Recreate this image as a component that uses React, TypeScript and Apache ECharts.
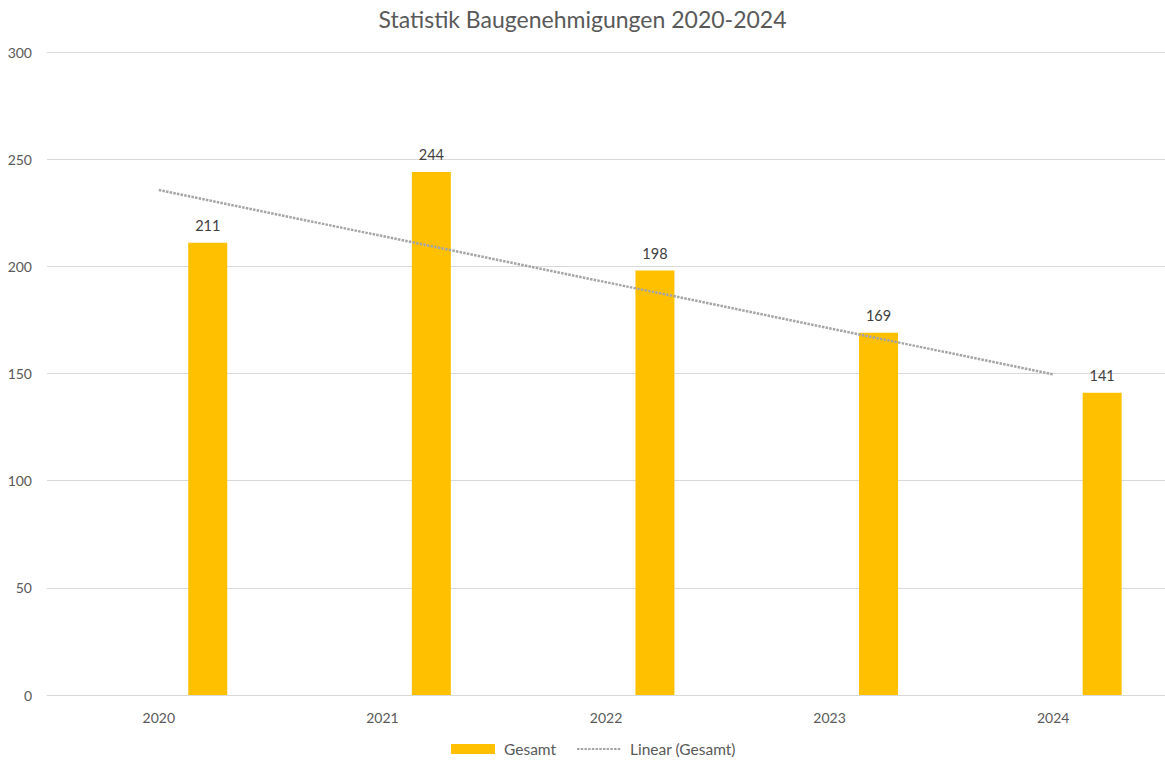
import React, { useEffect, useRef } from "react";
import * as echarts from "echarts";

const title = "Statistik Baugenehmigungen 2020-2024";
const years = ["2020", "2021", "2022", "2023", "2024"];
const gesamt = [211, 244, 198, 169, 141];
const emptySlot: (number | null)[] = [null, null, null, null, null];
const trendGesamt = [235.6, 214.1, 192.6, 171.1, 149.6];
const yTicks = [0, 50, 100, 150, 200, 250, 300];

const FONT = "Lato, 'Open Sans', sans-serif";

export default function App() {
  const ref = useRef<HTMLDivElement>(null);
  useEffect(() => {
    document.body.style.margin = "0";
    const chart = echarts.init(ref.current!, null, { renderer: "svg" });
    chart.setOption({
      animation: false,
      backgroundColor: "#ffffff",
      textStyle: { fontFamily: FONT },
      title: {
        text: title,
        left: "center",
        top: 2,
        textStyle: { fontFamily: FONT, fontSize: 23, fontWeight: "normal", color: "#595959" },
      },
      legend: {
        bottom: 3,
        left: 446,
        itemWidth: 44,
        itemHeight: 10,
        itemGap: 20,
        data: [
          { name: "Gesamt", icon: "rect" },
          { name: "Linear (Gesamt)", itemStyle: { opacity: 0 } },
        ],
        textStyle: { fontFamily: FONT, fontSize: 15.5, color: "#595959", padding: [0, 0, 0, 4] },
      },
      grid: { left: 47, right: 0, top: 52, bottom: 70, containLabel: false },
      xAxis: {
        type: "category",
        data: years,
        axisLine: { show: true, lineStyle: { color: "#d9d9d9", width: 1 } },
        axisTick: { show: false },
        axisLabel: { color: "#595959", fontSize: 14, margin: 15, fontFamily: FONT },
      },
      yAxis: {
        type: "value",
        min: yTicks[0],
        max: yTicks[yTicks.length - 1],
        interval: 50,
        axisLine: { show: false },
        axisTick: { show: false },
        axisLabel: { color: "#595959", fontSize: 14, margin: 15, fontFamily: FONT },
        splitLine: { lineStyle: { color: "#d9d9d9", width: 1 } },
      },
      series: [
        {
          name: "_empty",
          type: "bar",
          data: emptySlot,
          barWidth: 39,
          barGap: "151%",
          itemStyle: { color: "transparent" },
          silent: true,
        },
        {
          name: "Gesamt",
          type: "bar",
          data: gesamt,
          barWidth: 39,
          barGap: "151%",
          itemStyle: { color: "#ffc000" },
          label: {
            show: true,
            position: "top",
            distance: 10,
            color: "#404040",
            fontSize: 14.5,
            fontFamily: FONT,
          },
        },
        {
          name: "Linear (Gesamt)",
          type: "line",
          data: trendGesamt,
          symbol: "none",
          lineStyle: { color: "#a5a5a5", width: 2.5, type: [2.5, 1.2] },
          itemStyle: { color: "#a5a5a5" },
          z: 5,
        },
      ],
    });
    return () => chart.dispose();
  }, []);
  return <div ref={ref} style={{ width: 1165, height: 765 }} />;
}
